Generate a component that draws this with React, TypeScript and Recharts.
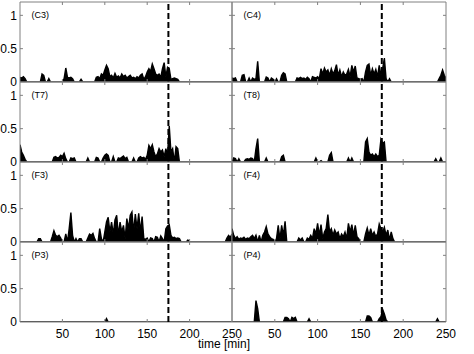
import React from 'react';
import { AreaChart, Area, XAxis, YAxis, ReferenceLine, ReferenceArea } from 'recharts';

// sampling step of the series, minutes (index i -> i * STEP_MIN)
const STEP_MIN = 2;

const C3 = [
  0.07, 0.06, 0.08, 0.05, 0, 0, 0, 0, 0, 0,
  0, 0, 0, 0.12, 0.1, 0, 0, 0.05, 0, 0,
  0, 0, 0, 0, 0, 0, 0.05, 0.21, 0.07, 0.06,
  0.07, 0.05, 0, 0, 0, 0, 0.04, 0, 0, 0,
  0, 0, 0, 0, 0, 0.07, 0.08, 0.05, 0.12, 0.1,
  0.18, 0.25, 0.2, 0.08, 0.1, 0.06, 0.13, 0.07, 0.09, 0.06,
  0.12, 0.08, 0.1, 0.06, 0.08, 0.1, 0.06, 0.07, 0.05, 0.08,
  0.06, 0.1, 0.12, 0.04, 0.08, 0.15, 0.2, 0.16, 0.27, 0.2,
  0.12, 0.1, 0.12, 0.07, 0.2, 0.29, 0.08, 0.22, 0.2, 0.04,
  0.05, 0.06, 0.05, 0.04, 0, 0, 0, 0, 0, 0,
  0, 0, 0, 0, 0, 0, 0, 0, 0, 0,
  0, 0, 0, 0, 0, 0, 0, 0, 0, 0,
  0, 0, 0, 0, 0, 0,
];

const C4 = [
  0.06, 0.05, 0.06, 0, 0, 0, 0.1, 0.11, 0, 0,
  0.06, 0, 0.06, 0.04, 0.05, 0.31, 0, 0, 0, 0,
  0.075, 0.06, 0, 0.06, 0.04, 0, 0.05, 0, 0, 0.1,
  0.14, 0.12, 0, 0, 0, 0, 0, 0, 0.06, 0.05,
  0.07, 0.05, 0.06, 0.04, 0.07, 0.05, 0, 0.08, 0.07, 0.06,
  0.08, 0.05, 0.2, 0.12, 0.21, 0.15, 0.18, 0.1, 0.2, 0.12,
  0.17, 0.26, 0.1, 0.18, 0.08, 0.15, 0.1, 0.12, 0.19, 0.08,
  0.25, 0.15, 0.24, 0.06, 0.05, 0.04, 0.05, 0, 0.15, 0.25,
  0.27, 0.1, 0.2, 0.12, 0.19, 0.08, 0.25, 0.1, 0.2, 0.36,
  0.05, 0, 0.05, 0, 0, 0, 0, 0, 0, 0,
  0, 0, 0, 0, 0, 0, 0, 0, 0, 0,
  0, 0, 0, 0, 0, 0, 0, 0, 0, 0,
  0, 0.05, 0.1, 0.18, 0.1, 0.06,
];

const T7 = [
  0.26, 0.15, 0.1, 0.04, 0, 0, 0, 0, 0, 0,
  0, 0, 0, 0, 0, 0, 0, 0, 0, 0,
  0.07, 0.08, 0.06, 0.07, 0.1, 0.08, 0.13, 0.05, 0, 0,
  0.06, 0.05, 0.06, 0, 0, 0, 0, 0, 0, 0,
  0.06, 0, 0, 0, 0, 0.07, 0.06, 0, 0, 0.06,
  0.1, 0.12, 0.1, 0, 0, 0.08, 0, 0, 0.06, 0.05,
  0.07, 0.09, 0.05, 0.07, 0, 0, 0, 0.06, 0, 0,
  0.06, 0.08, 0.06, 0.07, 0.04, 0.1, 0.25, 0.2, 0.26, 0.15,
  0.08, 0.12, 0.2, 0.15, 0.18, 0.08, 0.2, 0.1, 0.54, 0.15,
  0.2, 0, 0.23, 0.2, 0, 0, 0, 0, 0, 0,
  0, 0, 0, 0, 0, 0, 0, 0, 0, 0,
  0, 0, 0, 0, 0, 0, 0, 0, 0, 0,
  0, 0, 0, 0, 0, 0,
];

const T8 = [
  0, 0.06, 0.05, 0, 0.05, 0, 0, 0, 0.04, 0.05,
  0.04, 0.06, 0.05, 0, 0.2, 0.35, 0, 0, 0, 0,
  0.06, 0, 0, 0, 0, 0, 0, 0, 0, 0.08,
  0.1, 0, 0, 0, 0, 0, 0, 0, 0, 0,
  0, 0, 0, 0, 0, 0, 0, 0, 0, 0.06,
  0, 0, 0.02, 0, 0, 0, 0, 0.1, 0.14, 0,
  0, 0, 0, 0, 0, 0, 0, 0, 0.06, 0,
  0.06, 0, 0, 0, 0, 0, 0, 0, 0.3, 0.35,
  0.15, 0.1, 0.12, 0.08, 0.12, 0.08, 0.1, 0.34, 0.28, 0.3,
  0, 0, 0, 0, 0, 0, 0, 0, 0, 0,
  0, 0, 0, 0, 0, 0, 0, 0, 0, 0,
  0, 0, 0, 0, 0, 0, 0, 0, 0, 0.05,
  0, 0, 0.06, 0, 0, 0,
];

const F3 = [
  0, 0, 0, 0, 0, 0, 0, 0, 0, 0,
  0, 0.05, 0.05, 0, 0, 0, 0, 0, 0, 0.08,
  0.17, 0.1, 0.08, 0.1, 0.06, 0, 0, 0.12, 0, 0.2,
  0.44, 0.1, 0, 0.05, 0, 0.05, 0.05, 0, 0, 0,
  0.06, 0.12, 0.1, 0.13, 0.05, 0, 0, 0.2, 0.05, 0,
  0.15, 0.3, 0.37, 0.15, 0.3, 0.12, 0.33, 0.4, 0.1, 0.3,
  0.15, 0.25, 0.05, 0.35, 0.2, 0.4, 0.45, 0.15, 0.42, 0.2,
  0.43, 0.15, 0.38, 0.05, 0.04, 0.06, 0, 0.06, 0.05, 0,
  0.08, 0.07, 0, 0.09, 0.05, 0, 0.2, 0.24, 0.26, 0.1,
  0.06, 0.07, 0.05, 0.06, 0.05, 0, 0, 0, 0, 0.03,
  0, 0, 0, 0, 0, 0, 0, 0, 0, 0,
  0, 0, 0, 0, 0, 0, 0, 0, 0, 0,
  0, 0, 0.06, 0.1, 0.07, 0.12,
];

const F4 = [
  0.2, 0.1, 0.05, 0.08, 0.04, 0.06, 0.05, 0.07, 0.04, 0.06,
  0.05, 0.08, 0.1, 0.05, 0.1, 0, 0.1, 0, 0.1, 0.15,
  0.23, 0.12, 0.08, 0.05, 0.04, 0, 0.05, 0.25, 0.04, 0.25,
  0.1, 0.31, 0, 0, 0, 0, 0, 0, 0, 0.06,
  0.03, 0.06, 0, 0, 0.06, 0.04, 0.1, 0.05, 0.2, 0.12,
  0.28, 0.1, 0.26, 0.05, 0.15, 0.2, 0.41, 0.15, 0.2, 0.1,
  0.18, 0.12, 0.15, 0.05, 0.12, 0.08, 0.15, 0.05, 0.28, 0.15,
  0.26, 0.1, 0.25, 0.08, 0.05, 0, 0, 0, 0.12, 0.21,
  0.1, 0.2, 0.1, 0.15, 0.08, 0.12, 0.27, 0.2, 0.15, 0.22,
  0.1, 0.18, 0.03, 0.15, 0.05, 0, 0, 0, 0, 0,
  0, 0, 0, 0, 0, 0, 0, 0, 0, 0,
  0, 0, 0, 0, 0, 0, 0, 0, 0, 0,
  0, 0, 0, 0, 0, 0,
];

const P3 = [
  0, 0, 0, 0, 0, 0, 0, 0, 0, 0,
  0, 0, 0, 0, 0, 0, 0, 0, 0, 0,
  0, 0, 0, 0, 0, 0, 0, 0, 0, 0,
  0, 0, 0, 0, 0, 0, 0, 0, 0, 0,
  0, 0, 0, 0, 0, 0, 0, 0, 0, 0,
  0, 0.05, 0, 0, 0, 0, 0, 0, 0, 0,
  0, 0, 0, 0, 0, 0, 0, 0, 0, 0,
  0, 0, 0, 0, 0, 0, 0, 0, 0, 0,
  0, 0, 0, 0, 0, 0, 0, 0, 0, 0,
  0, 0, 0, 0, 0, 0, 0, 0, 0, 0,
  0, 0, 0, 0, 0, 0, 0, 0, 0, 0,
  0, 0, 0, 0, 0, 0, 0, 0, 0, 0,
  0, 0, 0, 0, 0, 0,
];

const P4 = [
  0, 0, 0, 0, 0, 0, 0, 0, 0, 0,
  0, 0, 0, 0, 0.32, 0.2, 0, 0, 0, 0,
  0, 0, 0, 0, 0, 0, 0, 0, 0, 0,
  0, 0.07, 0.07, 0.05, 0, 0.07, 0.05, 0.07, 0, 0,
  0, 0, 0, 0, 0, 0.05, 0, 0, 0, 0,
  0, 0, 0, 0, 0, 0, 0, 0, 0, 0,
  0, 0, 0, 0, 0, 0, 0, 0, 0, 0,
  0, 0, 0, 0, 0, 0, 0, 0, 0, 0.09,
  0.09, 0.07, 0, 0, 0, 0, 0.05, 0.08, 0.19, 0.12,
  0.03, 0, 0, 0, 0, 0, 0, 0, 0, 0,
  0, 0, 0, 0, 0, 0, 0, 0, 0, 0,
  0, 0, 0, 0, 0, 0, 0, 0, 0, 0,
  0.05, 0, 0, 0, 0, 0,
];

const TIME = C3.map((_, i) => i * STEP_MIN);

const LABELS = ['(C3)', '(C4)', '(T7)', '(T8)', '(F3)', '(F4)', '(P3)', '(P4)'];
const SERIES = [C3, C4, T7, T8, F3, F4, P3, P4];

const X_TICKS = [50, 100, 150, 200, 250];
const Y_TICKS = [0, 0.5, 1];
const MARK_X = [50, 100, 150, 200];
const MARK_Y = [0.5, 1];
const EVENT_T = 175;
const X_MAX = 250;
const Y_MAX = 1.2;

const FRAME = '#808080';
const FONT = '"Liberation Sans", Arial, Helvetica, sans-serif';

function Panel({ label, values, col, row }: { label: string; values: number[]; col: number; row: number }) {
  const showY = col === 0;
  const showX = row === 3;
  const px = col === 0 ? 20 : 232;
  const pw = col === 0 ? 212 : 214;
  const py = 2 + row * 80;
  const ph = 80;
  const M = 2;
  const XH = 24;
  const ml = showY ? 0 : M;
  const yw = showY ? 20 : 0;
  const mr = showX ? 14 : M;
  const width = ml + yw + pw + mr;
  const height = M + ph + (showX ? XH : 0) + M;
  const data = TIME.map((t, i) => ({ t, v: values[i] }));
  const tx = 3.5; // inward tick length (x units)
  const ty = 0.045; // inward tick length (y units)
  return (
    <div style={{ position: 'absolute', left: px - ml - yw, top: py - M, width, height }}>
      <AreaChart width={width} height={height} data={data} margin={{ top: M, right: mr, bottom: M, left: ml }}>
        <XAxis
          dataKey="t"
          type="number"
          domain={[0, X_MAX]}
          ticks={X_TICKS}
          interval={0}
          hide={!showX}
          height={XH}
          axisLine={false}
          tickLine={false}
          tickSize={0}
          tickMargin={7}
          tick={{ fill: '#000', fontSize: 12 }}
          allowDataOverflow
        />
        <YAxis
          type="number"
          domain={[0, Y_MAX]}
          ticks={Y_TICKS}
          interval={0}
          hide={!showY}
          width={20}
          axisLine={false}
          tickLine={false}
          tickSize={0}
          tickMargin={3}
          tick={{ fill: '#000', fontSize: 12 }}
          allowDataOverflow
        />
        <Area
          type="linear"
          dataKey="v"
          stroke="#000"
          strokeWidth={1.4}
          fill="#000"
          fillOpacity={1}
          isAnimationActive={false}
          dot={false}
          activeDot={false}
        />
        <ReferenceArea x1={0} x2={X_MAX} y1={0} y2={Y_MAX} fill="none" stroke={FRAME} strokeWidth={1} />
        {MARK_X.map((x) => (
          <ReferenceLine key={'b' + x} segment={[{ x, y: 0 }, { x, y: ty }]} stroke={FRAME} />
        ))}
        {MARK_X.map((x) => (
          <ReferenceLine key={'t' + x} segment={[{ x, y: Y_MAX }, { x, y: Y_MAX - ty }]} stroke={FRAME} />
        ))}
        {MARK_Y.map((y) => (
          <ReferenceLine key={'l' + y} segment={[{ x: 0, y }, { x: tx, y }]} stroke={FRAME} />
        ))}
        {MARK_Y.map((y) => (
          <ReferenceLine key={'r' + y} segment={[{ x: X_MAX, y }, { x: X_MAX - tx, y }]} stroke={FRAME} />
        ))}
        <ReferenceLine x={EVENT_T} stroke="#000" strokeWidth={2} strokeDasharray="6 3" />
      </AreaChart>
      <div
        style={{
          position: 'absolute',
          left: ml + yw + 11.5,
          top: M + 8.5,
          fontSize: 9,
          lineHeight: '9px',
          color: '#000',
          whiteSpace: 'nowrap',
        }}
      >
        {label}
      </div>
    </div>
  );
}

export default function App() {
  return (
    <div
      style={{
        position: 'absolute',
        left: 0,
        top: 0,
        width: 474,
        height: 354,
        background: '#fff',
        fontFamily: FONT,
        overflow: 'hidden',
      }}
    >
      <style>{'svg.recharts-surface { overflow: visible; } .recharts-wrapper { overflow: visible; }'}</style>
      {SERIES.map((values, i) => (
        <Panel key={LABELS[i]} label={LABELS[i]} values={values} col={i % 2} row={Math.floor(i / 2)} />
      ))}
      <div
        style={{
          position: 'absolute',
          left: 174,
          width: 100,
          top: 339.5,
          textAlign: 'center',
          fontSize: 12,
          lineHeight: '8px',
          color: '#000',
          whiteSpace: 'nowrap',
        }}
      >
        time [min]
      </div>
    </div>
  );
}
